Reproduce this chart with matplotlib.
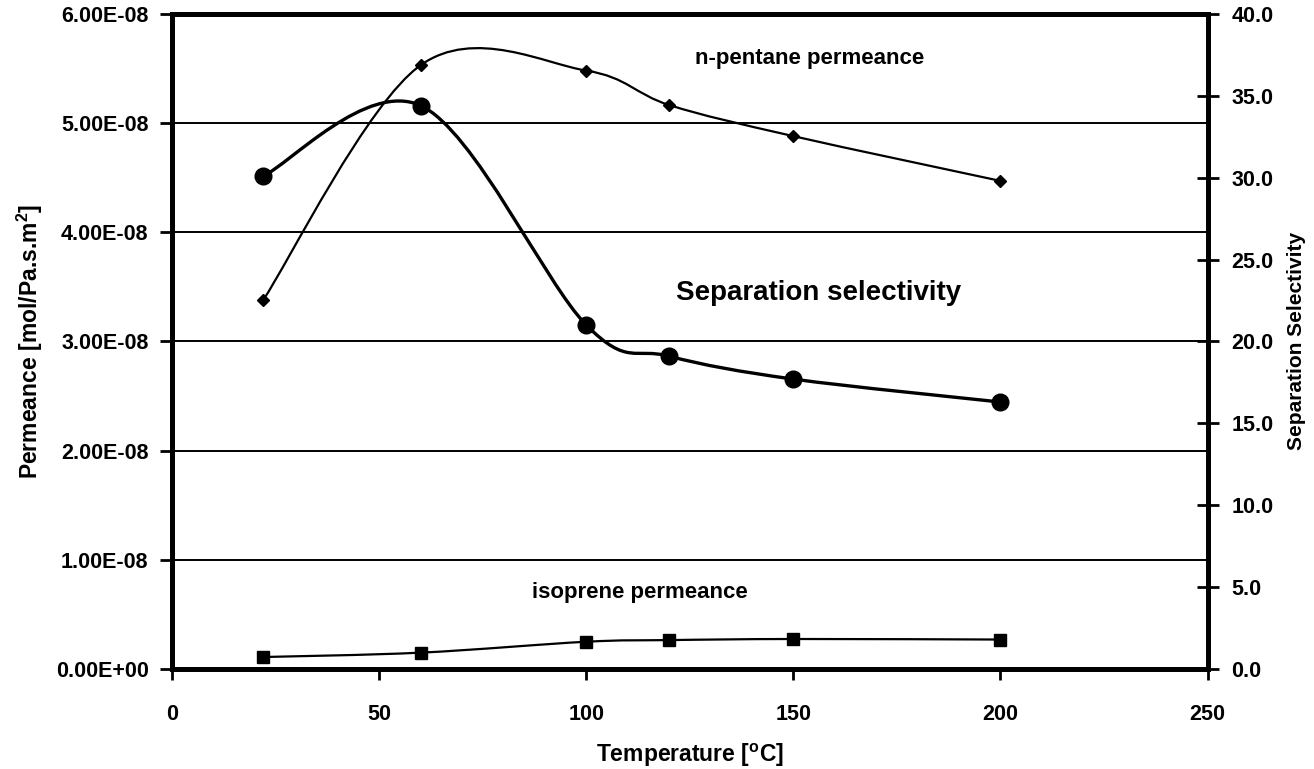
import numpy as np
import matplotlib
matplotlib.use("Agg")
import matplotlib.pyplot as plt
from matplotlib.path import Path
from matplotlib.patches import PathPatch
from matplotlib.ticker import FormatStrFormatter, MultipleLocator

plt.rcParams['font.family'] = ['Liberation Sans', 'DejaVu Sans']
plt.rcParams['font.weight'] = 'bold'
plt.rcParams['axes.labelweight'] = 'bold'
plt.rcParams['mathtext.fontset'] = 'custom'
plt.rcParams['mathtext.rm'] = 'Liberation Sans:bold'
plt.rcParams['mathtext.bf'] = 'Liberation Sans:bold'

# temperature [C] and measured values
temp = [22, 60, 100, 120, 150, 200]
pentane = [3.38e-8, 5.53e-8, 5.48e-8, 5.165e-8, 4.88e-8, 4.47e-8]
isoprene = [0.11e-8, 0.15e-8, 0.25e-8, 0.265e-8, 0.275e-8, 0.27e-8]
selectivity = [30.1, 34.4, 21.0, 19.1, 17.7, 16.3]


def smooth_path(x, y):
    # bezier segments with catmull-rom control points (spreadsheet-style smoothing)
    pts = np.column_stack([x, y]).astype(float)
    n = len(pts)
    verts = [pts[0]]
    codes = [Path.MOVETO]
    for i in range(n - 1):
        p0 = pts[max(i - 1, 0)]
        p1 = pts[i]
        p2 = pts[i + 1]
        p3 = pts[min(i + 2, n - 1)]
        verts += [p1 + (p2 - p0) / 6, p2 - (p3 - p1) / 6, p2]
        codes += [Path.CURVE4] * 3
    return Path(verts, codes)


fig = plt.figure(figsize=(13.14, 7.69), dpi=100)
ax1 = fig.add_axes([0.131, 0.130, 0.788, 0.852])
ax2 = ax1.twinx()

# permeance curves on the left axis
ax1.add_patch(PathPatch(smooth_path(temp, pentane), fill=False, lw=1.6, color='black', zorder=3))
ax1.plot(temp, pentane, 'D', color='black', markersize=6, zorder=4)
ax1.add_patch(PathPatch(smooth_path(temp, isoprene), fill=False, lw=1.6, color='black', zorder=3))
ax1.plot(temp, isoprene, 's', color='black', markersize=9, zorder=4)

# selectivity on the right axis
ax2.add_patch(PathPatch(smooth_path(temp, selectivity), fill=False, lw=2.4, color='black', zorder=3))
ax2.plot(temp, selectivity, 'o', color='black', markersize=12, zorder=4)

ax1.set_xlim(0, 250)
ax1.set_ylim(0, 6e-8)
ax2.set_ylim(0, 40)
ax1.xaxis.set_major_locator(MultipleLocator(50))
ax1.yaxis.set_major_locator(MultipleLocator(1e-8))
ax2.yaxis.set_major_locator(MultipleLocator(5))
ax1.yaxis.set_major_formatter(FormatStrFormatter('%.2E'))
ax2.yaxis.set_major_formatter(FormatStrFormatter('%.1f'))

ax1.grid(True, axis='y', color='black', lw=1.4)
ax1.set_axisbelow(True)

for ax in (ax1, ax2):
    for s in ax.spines.values():
        s.set_linewidth(3.5)
        s.set_color('black')

ax1.tick_params(axis='y', direction='out', length=9, width=2, pad=8, labelsize=15.5)
ax1.tick_params(axis='x', direction='out', length=8, width=2, pad=17, labelsize=15.5)
ax2.tick_params(axis='y', direction='inout', length=16, width=2, pad=9, labelsize=15.5)

ax1.set_xlabel(r'Temperature [$^{\mathrm{o}}$C]', fontsize=16.5, labelpad=12)
ax1.set_ylabel(r'Permeance [mol/Pa.s.m$^{\mathrm{2}}$]', fontsize=16.5, labelpad=8)
ax2.set_ylabel('Separation Selectivity', fontsize=15, labelpad=10)

ax1.text(154, 5.59e-8, 'n-pentane permeance', fontsize=16, ha='center', va='center')
ax1.text(156, 3.44e-8, 'Separation selectivity', fontsize=20, ha='center', va='center')
ax1.text(113, 0.70e-8, 'isoprene permeance', fontsize=16, ha='center', va='center')

fig.savefig('out.png', dpi=100)
